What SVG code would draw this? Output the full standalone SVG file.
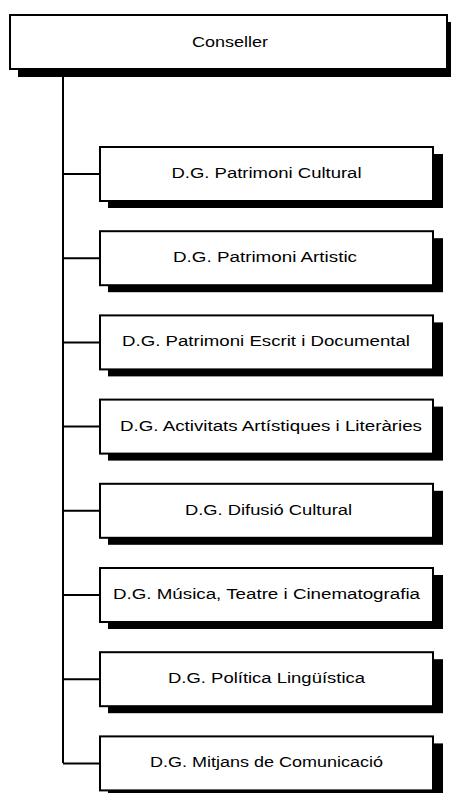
<svg xmlns="http://www.w3.org/2000/svg" width="451" height="793" viewBox="0 0 451 793">
<style>
.sh{fill:#000}
.bx{fill:#fff;stroke:#000;stroke-width:2}
.t{font-family:"Liberation Sans",Arial,sans-serif;font-size:14px;fill:#000;text-anchor:middle}
.c{fill:none;stroke:#000;stroke-width:2}
</style>
<rect width="451" height="793" fill="#fff"/>
<g id="connectors">
<path class="c" d="M63 70V763"/>
<path class="c" d="M63 174H100M63 258.2H100M63 342.4H100M63 426.6H100M63 510.8H100M63 595H100M63 679.2H100M63 763.4H100"/>
</g>
<g id="conseller">
<rect class="sh" x="18" y="22" width="437" height="55"/>
<rect class="bx" x="10" y="15" width="437" height="54"/>
<text class="t" x="230" y="47" textLength="76" lengthAdjust="spacingAndGlyphs">Conseller</text>
</g>
<g id="dg1">
<rect class="sh" x="108" y="154" width="335" height="54"/>
<rect class="bx" x="100" y="147" width="333" height="54"/>
<text class="t" x="266.5" y="178" textLength="190" lengthAdjust="spacingAndGlyphs">D.G. Patrimoni Cultural</text>
</g>
<g id="dg2">
<rect class="sh" x="108" y="238.2" width="335" height="54"/>
<rect class="bx" x="100" y="231.2" width="333" height="54"/>
<text class="t" x="265" y="262.2" textLength="184" lengthAdjust="spacingAndGlyphs">D.G. Patrimoni Artistic</text>
</g>
<g id="dg3">
<rect class="sh" x="108" y="322.4" width="335" height="54"/>
<rect class="bx" x="100" y="315.4" width="333" height="54"/>
<text class="t" x="266" y="346.4" textLength="288" lengthAdjust="spacingAndGlyphs">D.G. Patrimoni Escrit i Documental</text>
</g>
<g id="dg4">
<rect class="sh" x="108" y="406.6" width="335" height="54"/>
<rect class="bx" x="100" y="399.6" width="333" height="54"/>
<text class="t" x="271" y="430.6" textLength="302" lengthAdjust="spacingAndGlyphs">D.G. Activitats Artístiques i Literàries</text>
</g>
<g id="dg5">
<rect class="sh" x="108" y="490.8" width="335" height="54"/>
<rect class="bx" x="100" y="483.8" width="333" height="54"/>
<text class="t" x="268.5" y="514.8" textLength="167" lengthAdjust="spacingAndGlyphs">D.G. Difusió Cultural</text>
</g>
<g id="dg6">
<rect class="sh" x="108" y="575" width="335" height="54"/>
<rect class="bx" x="100" y="568" width="333" height="54"/>
<text class="t" x="266.5" y="599" textLength="307" lengthAdjust="spacingAndGlyphs">D.G. Música, Teatre i Cinematografia</text>
</g>
<g id="dg7">
<rect class="sh" x="108" y="659.2" width="335" height="54"/>
<rect class="bx" x="100" y="652.2" width="333" height="54"/>
<text class="t" x="266.5" y="683.2" textLength="197" lengthAdjust="spacingAndGlyphs">D.G. Política Lingüística</text>
</g>
<g id="dg8">
<rect class="sh" x="108" y="743.4" width="335" height="54"/>
<rect class="bx" x="100" y="736.4" width="333" height="54"/>
<text class="t" x="266.5" y="767.4" textLength="233" lengthAdjust="spacingAndGlyphs">D.G. Mitjans de Comunicació</text>
</g>
</svg>
